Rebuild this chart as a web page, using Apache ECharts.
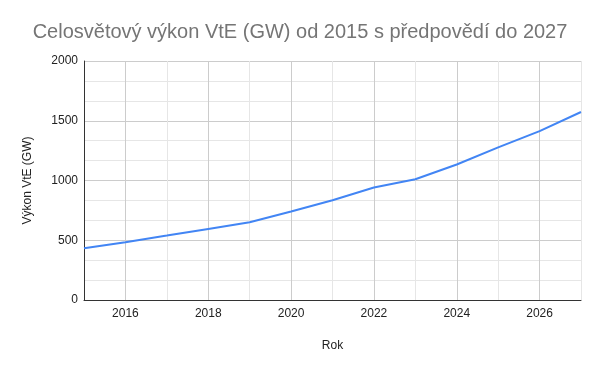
<!DOCTYPE html>
<html>
<head>
<meta charset="utf-8">
<script src="https://cdn.jsdelivr.net/npm/echarts@6/dist/echarts.min.js"></script>
<style>html,body{margin:0;padding:0;background:#fff}#c{width:600px;height:371px}</style>
</head>
<body>
<div id="c"></div>
<script>
const titleText = 'Celosvětový výkon VtE (GW) od 2015 s předpovědí do 2027';
const years = [2015, 2016, 2017, 2018, 2019, 2020, 2021, 2022, 2023, 2024, 2025, 2026, 2027];
const capacity = [433, 484, 539, 595, 651, 740, 835, 941, 1011, 1134, 1277, 1413, 1573];
const yTicks = [0, 500, 1000, 1500, 2000];

const chart = echarts.init(document.getElementById('c'), null, {renderer: 'canvas'});
const font = 'Liberation Sans, Arial, sans-serif';
chart.setOption({
  animation: false,
  backgroundColor: '#fff',
  title: {
    text: titleText, left: 'center', top: 17,
    textStyle: {fontFamily: font, fontSize: 20, fontWeight: 'normal', color: '#757575'}
  },
  grid: {left: 84, right: 19, top: 61, bottom: 71},
  xAxis: {
    type: 'value', min: 2015, max: 2027, interval: 1,
    name: 'Rok', nameLocation: 'middle', nameGap: 40,
    nameTextStyle: {fontFamily: font, fontSize: 12, color: '#222'},
    axisLine: {show: true, lineStyle: {color: '#333', width: 1}},
    axisTick: {show: false},
    axisLabel: {
      fontFamily: font, fontSize: 12, color: '#222', margin: 8,
      formatter: v => (v % 2 === 0 ? String(v) : '')
    },
    splitLine: {show: true, lineStyle: {color: ['#e6e6e6', '#cccccc'], width: 1}}
  },
  yAxis: {
    type: 'value', min: yTicks[0], max: yTicks[yTicks.length - 1], interval: 500,
    name: 'Výkon VtE (GW)', nameLocation: 'middle', nameGap: 50,
    nameTextStyle: {fontFamily: font, fontSize: 12, color: '#222'},
    axisLine: {show: true, lineStyle: {color: '#333', width: 1}},
    axisTick: {show: false},
    axisLabel: {fontFamily: font, fontSize: 12, color: '#222', margin: 6, formatter: v => String(v)},
    splitLine: {show: true, lineStyle: {color: '#cccccc', width: 1}},
    minorTick: {show: false, splitNumber: 3},
    minorSplitLine: {show: true, lineStyle: {color: '#e6e6e6', width: 1}}
  },
  series: [{
    type: 'line',
    data: years.map((y, i) => [y, capacity[i]]),
    showSymbol: false,
    symbol: 'none',
    lineStyle: {color: '#4285F4', width: 2},
    itemStyle: {color: '#4285F4'}
  }]
});
</script>
</body>
</html>
